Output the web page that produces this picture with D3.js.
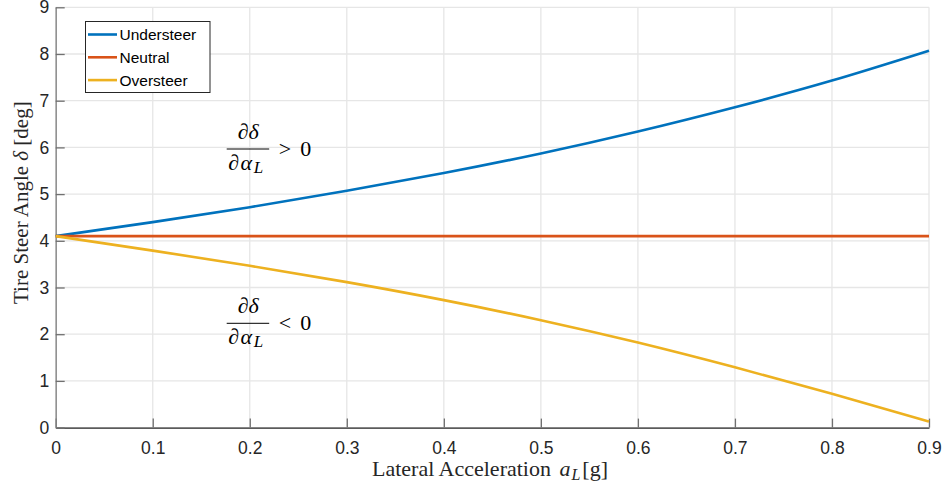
<!DOCTYPE html>
<html>
<head>
<meta charset="utf-8">
<script src="https://cdn.jsdelivr.net/npm/d3@7"></script>
<style>
  html, body { margin: 0; padding: 0; background: #fff; }
  svg { display: block; }
</style>
</head>
<body>
<svg id="chart" width="947" height="490"></svg>
<script>
// Lateral acceleration samples [g]
const accel = [0, 0.1, 0.2, 0.3, 0.4, 0.5, 0.6, 0.7, 0.8, 0.9];
// Tire steer angle [deg] for each handling regime
const understeer = [4.1, 4.40, 4.72, 5.07, 5.45, 5.87, 6.34, 6.86, 7.43, 8.07];
const neutral    = [4.1, 4.1, 4.1, 4.1, 4.1, 4.1, 4.1, 4.1, 4.1, 4.1];
const oversteer  = [4.1, 3.79, 3.465, 3.115, 2.73, 2.30, 1.82, 1.29, 0.725, 0.13];

const seriesNames = ["Understeer", "Neutral", "Oversteer"];
const seriesColors = ["#0072BD", "#D95319", "#EDB120"];
const seriesValues = [understeer, neutral, oversteer];

const xTicks = [0, 0.1, 0.2, 0.3, 0.4, 0.5, 0.6, 0.7, 0.8, 0.9];
const yTicks = [0, 1, 2, 3, 4, 5, 6, 7, 8, 9];

const svg = d3.select("#chart");
const plotLeft = 55.7, plotRight = 929, plotTop = 7.3, plotBottom = 427.6;

const x = d3.scaleLinear().domain([0, 0.9]).range([plotLeft, plotRight]);
const y = d3.scaleLinear().domain([0, 9]).range([plotBottom, plotTop]);

const sansFont = "'Liberation Sans', Arial, Helvetica, sans-serif";
const serifFont = "'Liberation Serif', 'Times New Roman', serif";

// Grid
const grid = svg.append("g");
grid.selectAll("line.gx").data(xTicks).join("line")
  .attr("class", "gx")
  .attr("x1", d => x(d)).attr("x2", d => x(d))
  .attr("y1", plotTop).attr("y2", plotBottom)
  .attr("stroke", "#e6e6e6").attr("stroke-width", 1.3);
grid.selectAll("line.gy").data(yTicks).join("line")
  .attr("class", "gy")
  .attr("x1", plotLeft).attr("x2", plotRight)
  .attr("y1", d => y(d)).attr("y2", d => y(d))
  .attr("stroke", "#e6e6e6").attr("stroke-width", 1.3);

// Axes with inward ticks
const xAxis = d3.axisBottom(x).tickValues(xTicks).tickSizeInner(-9).tickSizeOuter(0)
  .tickPadding(13.5).tickFormat(d => d === 0 ? "0" : d3.format(".1f")(d));
const yAxis = d3.axisLeft(y).tickValues(yTicks).tickSizeInner(-9).tickSizeOuter(0)
  .tickPadding(6.5).tickFormat(d3.format("d"));

const gx = svg.append("g").attr("transform", `translate(0,${plotBottom})`).call(xAxis);
gx.select(".domain").attr("stroke", "#262626").attr("stroke-width", 1.3);
gx.selectAll(".tick line").attr("stroke", "#707070").attr("stroke-width", 1.3);
gx.selectAll(".tick text").attr("fill", "#262626").style("font-family", sansFont).style("font-size", "17.5px");

const gy = svg.append("g").attr("transform", `translate(${plotLeft},0)`).call(yAxis);
gy.select(".domain").attr("stroke", "#808080").attr("stroke-width", 1.3);
gy.selectAll(".tick line").attr("stroke", "#707070").attr("stroke-width", 1.3);
gy.selectAll(".tick text").attr("fill", "#262626").style("font-family", sansFont).style("font-size", "17.5px");

// Curves
const line = d3.line()
  .x((d, i) => x(accel[i]))
  .y(d => y(d))
  .curve(d3.curveNatural);

svg.append("g").selectAll("path").data(seriesValues).join("path")
  .attr("d", d => line(d))
  .attr("fill", "none")
  .attr("stroke", (d, i) => seriesColors[i])
  .attr("stroke-width", 2.6);

// Legend
const lg = svg.append("g");
lg.append("rect").attr("x", 85.5).attr("y", 21.5).attr("width", 124.5).attr("height", 71)
  .attr("fill", "#fff").attr("stroke", "#262626").attr("stroke-width", 1);
seriesNames.forEach((name, i) => {
  const yy = 34.5 + i * 22.8;
  lg.append("line").attr("x1", 88).attr("x2", 117).attr("y1", yy).attr("y2", yy)
    .attr("stroke", seriesColors[i]).attr("stroke-width", 2.6);
  lg.append("text").attr("x", 119.5).attr("y", yy + 5.5)
    .attr("fill", "#000").style("font-family", sansFont).style("font-size", "15.5px")
    .text(name);
});

// Axis labels
const xl = svg.append("text").attr("x", 372).attr("y", 476)
  .attr("fill", "#262626")
  .style("font-family", serifFont).style("font-size", "22px");
xl.append("tspan").text("Lateral Acceleration ");
xl.append("tspan").attr("dx", 3).attr("font-style", "italic").text("a");
xl.append("tspan").attr("dx", 1).attr("font-style", "italic").style("font-size", "16px").attr("dy", 4).text("L");
xl.append("tspan").attr("dx", 2).attr("dy", -4).text("[g]");

const yl = svg.append("text")
  .attr("transform", "translate(27.5,304) rotate(-90)")
  .attr("fill", "#262626")
  .style("font-family", serifFont).style("font-size", "21px");
yl.append("tspan").text("Tire Steer Angle ");
yl.append("tspan").attr("font-style", "italic").text("δ");
yl.append("tspan").text(" [deg]");

// Derivative annotations: ∂δ/∂α_L with inequality
function derivative(xBar, yBar, sign) {
  const g = svg.append("g").style("font-family", serifFont).attr("fill", "#000");
  g.append("line").attr("x1", xBar).attr("x2", xBar + 42.5)
    .attr("y1", yBar).attr("y2", yBar).attr("stroke", "#000").attr("stroke-width", 1);
  const num = g.append("text").attr("x", xBar + 21.5).attr("y", yBar - 10)
    .attr("text-anchor", "middle").style("font-size", "22px");
  num.append("tspan").text("∂");
  num.append("tspan").attr("font-style", "italic").text("δ");
  const den = g.append("text").attr("x", xBar + 1.5).attr("y", yBar + 21)
    .style("font-size", "22px");
  den.append("tspan").text("∂");
  den.append("tspan").attr("dx", 1.5).attr("font-style", "italic").text("α");
  den.append("tspan").attr("dx", 1.5).attr("font-style", "italic").style("font-size", "17px").attr("dy", 3).text("L");
  g.append("text").attr("x", xBar + 52).attr("y", yBar + 6.5)
    .style("font-size", "22px").text(sign);
  g.append("text").attr("x", xBar + 73.5).attr("y", yBar + 6.5)
    .style("font-size", "22px").text("0");
}
derivative(226.7, 149, ">");
derivative(226.7, 323.3, "<");
</script>
</body>
</html>
